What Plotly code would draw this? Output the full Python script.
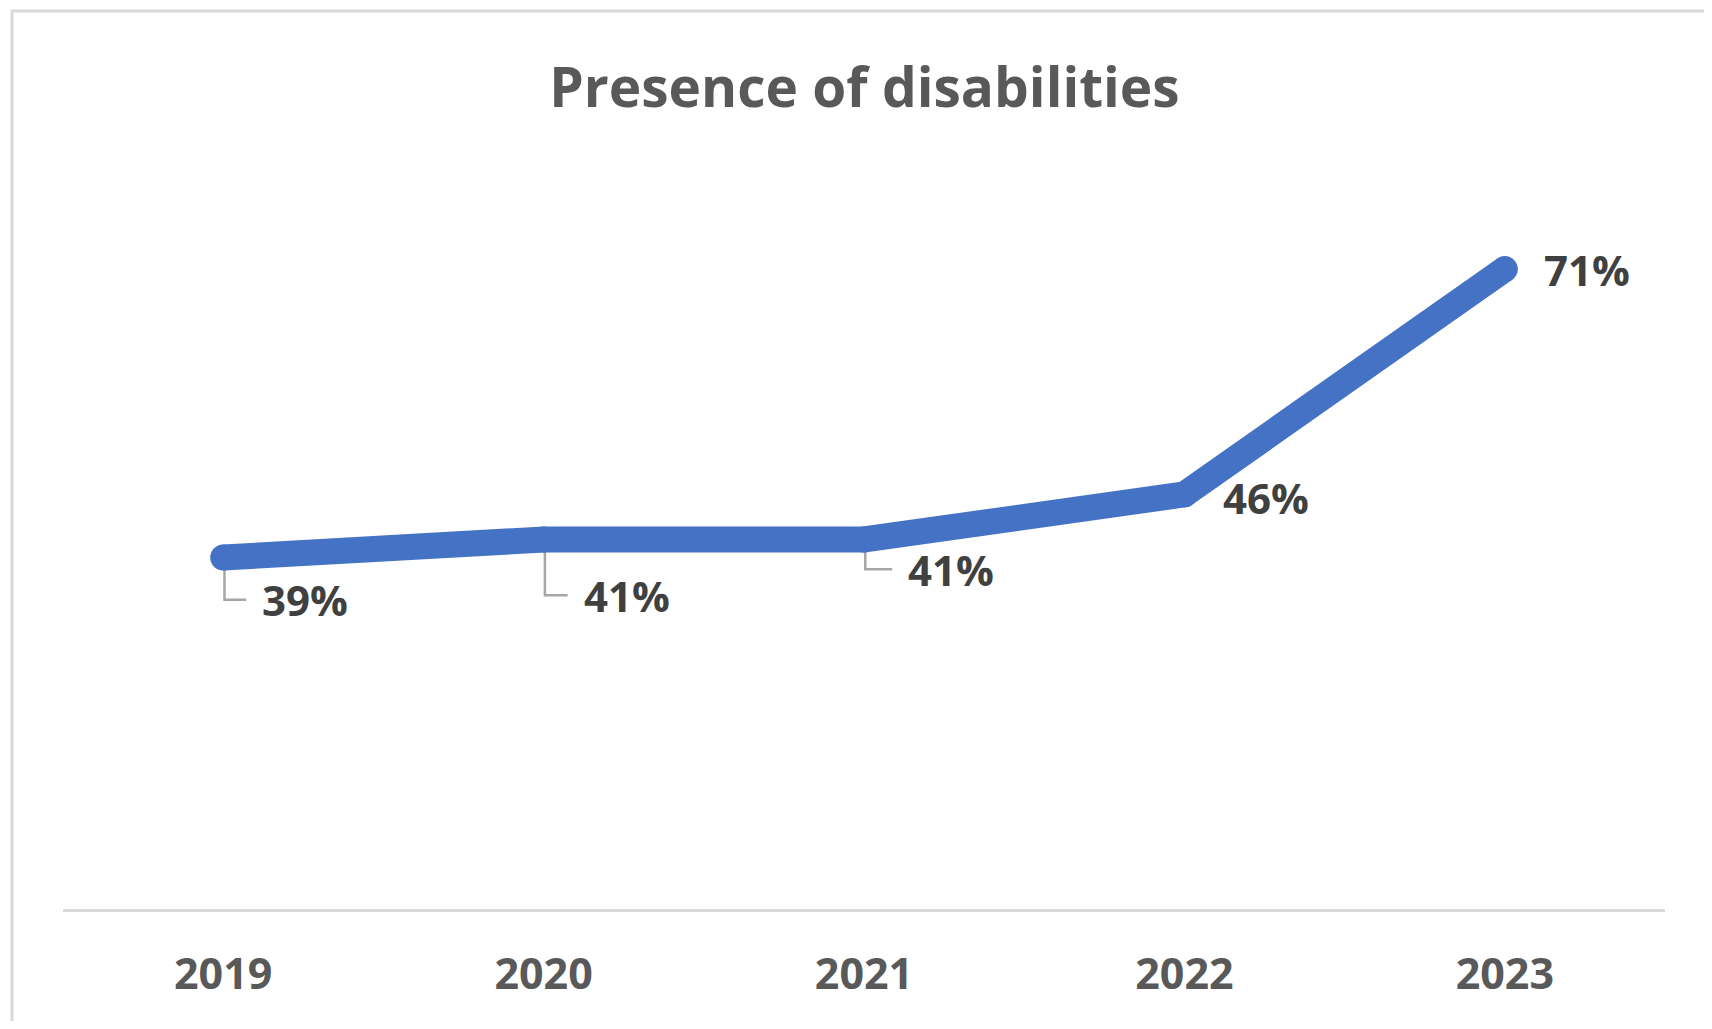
import plotly.graph_objects as go

years = ["2019", "2020", "2021", "2022", "2023"]
values = [39, 41, 41, 46, 71]
labels = ["39%", "41%", "41%", "46%", "71%"]

# label placement (style): leader-line offsets in category units / percent points
leader = [True, True, True, False, False]
lead_dx = [0.072, 0.075, 0.088, 0.115, 0.115]
lead_dy = [-4.7, -6.2, -3.3, -0.3, 0.0]
text_shift = [14, 14, 14, 0, 0]

xs = list(range(len(years)))
fig = go.Figure()

# leader lines
for i, v in enumerate(values):
    if leader[i]:
        fig.add_trace(go.Scatter(
            x=[xs[i] + 0.004, xs[i] + 0.004, xs[i] + lead_dx[i]],
            y=[v - 0.3, v + lead_dy[i], v + lead_dy[i]],
            mode="lines", line=dict(color="#A6A6A6", width=2.5),
            hoverinfo="skip", showlegend=False))

fig.add_trace(go.Scatter(
    x=xs, y=values, mode="lines+markers",
    line=dict(color="#4472C4", width=26),
    marker=dict(color="#4472C4", size=26),
    showlegend=False))

for i, v in enumerate(values):
    fig.add_annotation(
        x=xs[i] + lead_dx[i], y=v + lead_dy[i], text=labels[i],
        showarrow=False, xanchor="left", yanchor="middle",
        xshift=text_shift[i],
        font=dict(family="Open Sans", size=42, color="#404040", weight="bold"))

# page body has an 8px margin; figure sized/offset to compensate
W, H = 1696, 1013
fig.update_layout(
    width=W, height=H,
    margin=dict(l=55, r=39, t=180, b=112),
    paper_bgcolor="white", plot_bgcolor="white",
    title=dict(text="<b>Presence of disabilities</b>", x=0.505, xanchor="center",
               y=1 - 80 / H, yanchor="middle", yref="container",
               font=dict(family="Open Sans", size=55, color="#595959")),
    xaxis=dict(range=[-0.5, 4.5], tickmode="array", tickvals=xs, ticktext=years,
               showgrid=False, zeroline=False, showline=True, linecolor="#D9D9D9",
               linewidth=2.5, ticks="", ticklabelstandoff=26,
               tickfont=dict(family="Open Sans", size=43, color="#595959", weight="bold")),
    yaxis=dict(range=[0, 80], visible=False, showgrid=False, zeroline=False),
    shapes=[dict(type="rect", xref="paper", yref="paper",
                 x0=(4 - 55) / 1602, x1=1.2, y0=-0.5, y1=(901 - 3) / 721,
                 line=dict(color="#D9D9D9", width=3), fillcolor="rgba(0,0,0,0)",
                 layer="below")],
)

fig.write_html("out.html")
